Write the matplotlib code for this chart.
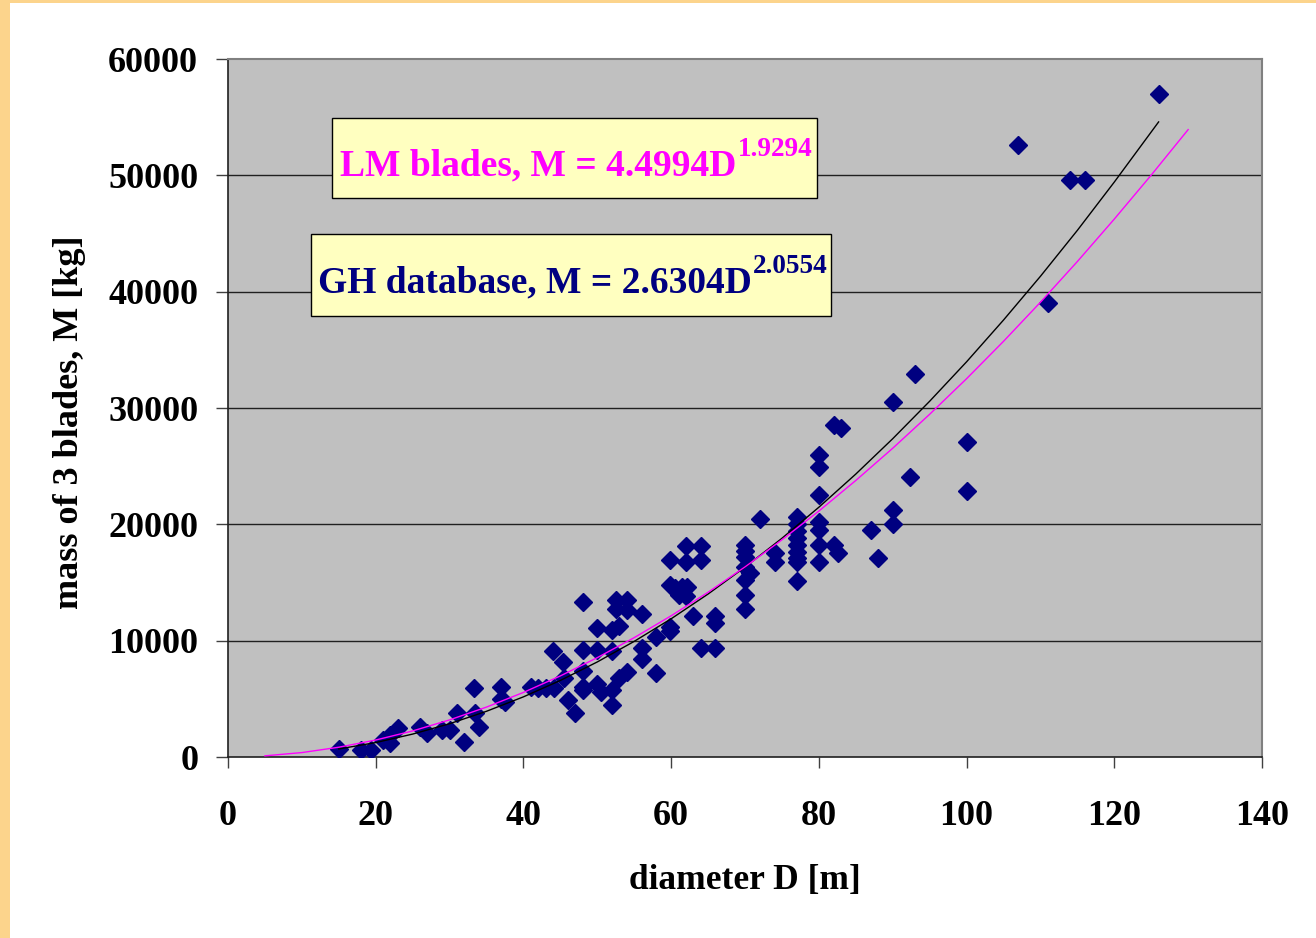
import matplotlib
matplotlib.use("Agg")
import matplotlib.pyplot as plt
from matplotlib.patches import Rectangle

# ---- data ----
diameter = [15, 18, 19.3, 21, 22, 22, 23, 26, 27, 29, 30, 31, 32, 33.3, 33.4, 34,
            37, 37, 37.5, 41, 42, 43, 44.2, 44, 45.3, 45.5, 46, 47,
            48, 48, 48, 48, 48, 50, 50, 50, 50.5, 52, 52, 52, 52, 52.5, 52.6, 53, 53,
            54, 54, 54, 56, 56, 56, 58, 58,
            59.8, 59.8, 59.8, 59.8, 60.5, 61, 61.5, 62, 62.2, 62, 62, 63, 64, 64, 64,
            66, 66, 66,
            70, 70, 70, 70, 70.7, 70, 70, 70, 72, 74, 74,
            77, 77, 77, 77, 77, 77, 77, 77, 77,
            80, 80, 80, 80, 80, 80, 80, 82, 83, 82, 82.6, 87, 88,
            90, 90, 90, 92.3, 93, 100, 100, 107, 111, 114, 116, 126]
mass = [660, 600, 600, 1450, 1200, 1900, 2450, 2600, 2050, 2300, 2300, 3800, 1300, 5900, 3750, 2600,
        6000, 5000, 4750, 6000, 5900, 5900, 5900, 9100, 8200, 6750, 4900, 3750,
        13350, 9200, 7400, 6050, 5800, 11100, 9200, 6300, 5600, 10900, 9100, 5750, 4450, 12700, 13500, 11300, 6800,
        13500, 12650, 7300, 12300, 9400, 8450, 10350, 7250,
        16900, 14800, 11200, 10800, 14500, 13900, 14650, 13800, 14650, 18100, 16800, 12100, 18100, 16900, 9350,
        12100, 11500, 9350,
        18200, 17700, 17200, 16300, 15800, 15200, 13900, 12700, 20500, 17500, 16800,
        20600, 20000, 19400, 18800, 18200, 17600, 17100, 16800, 15100,
        26000, 24900, 22500, 20200, 19500, 18200, 16800, 28500, 28300, 18200, 17500, 19500, 17100,
        30500, 21200, 20000, 24100, 32900, 27100, 22900, 52600, 39000, 49600, 49600, 57000]

# fitted trend lines
lm_D = [5, 10, 15, 20, 25, 30, 35, 40, 45, 50, 55, 60, 65, 70, 75, 80, 85, 90, 95,
        100, 105, 110, 115, 120, 125, 130]
lm_M = [100, 380, 840, 1460, 2240, 3190, 4290, 5550, 6970, 8540, 10260, 12140, 14160,
        16340, 18670, 21140, 23770, 26540, 29460, 32520, 35730, 39090, 42590, 46240,
        50020, 53930]
gh_D = [15, 20, 25, 30, 35, 40, 45, 50, 55, 60, 65, 70, 75, 80, 85, 90, 95, 100, 105,
        110, 115, 120, 126]
gh_M = [690, 1240, 1970, 2860, 3930, 5170, 6580, 8170, 9940, 11880, 14010, 16320, 18800,
        21470, 24320, 27360, 30580, 33970, 37560, 41320, 45270, 49420, 54590]

x_ticks = [0, 20, 40, 60, 80, 100, 120, 140]
y_ticks = [0, 10000, 20000, 30000, 40000, 50000, 60000]

lm_label = "LM blades, M = 4.4994D"
lm_exp = "1.9294"
gh_label = "GH database, M = 2.6304D"
gh_exp = "2.0554"
xlabel = "diameter D [m]"
ylabel = "mass of 3 blades, M [kg]"

# ---- figure ----
SERIF = ["Liberation Serif", "DejaVu Serif"]
W, H = 1316, 938
fig = plt.figure(figsize=(W / 100, H / 100), dpi=100, facecolor="white")

# orange frame strips (top and left)
fig.patches.append(Rectangle((0, 0), 10 / W, 1, transform=fig.transFigure,
                             facecolor="#FCD48C", edgecolor="none", zorder=0))
fig.patches.append(Rectangle((0, 1 - 3 / H), 1, 3 / H, transform=fig.transFigure,
                             facecolor="#FCD48C", edgecolor="none", zorder=0))

ax = fig.add_axes([228 / W, 1 - 757 / H, (1262 - 228) / W, (757 - 59) / H])
ax.set_facecolor("#C0C0C0")
ax.set_xlim(0, 140)
ax.set_ylim(0, 60000)

for v in y_ticks[1:-1]:
    ax.axhline(v, color="#202020", lw=1.0, zorder=1)

ax.plot(diameter, mass, linestyle="none", marker="D", markersize=8.8,
        color="#000080", markeredgecolor="#000080", zorder=3)
ax.plot(gh_D, gh_M, color="black", lw=1.0, zorder=4)
ax.plot(lm_D, lm_M, color="#FF00FF", lw=1.0, zorder=4)

ax.set_xticks(x_ticks)
ax.set_yticks(y_ticks)
ax.set_xticklabels([str(t) for t in x_ticks])
ax.set_yticklabels([str(t) for t in y_ticks])
for lab in ax.get_xticklabels() + ax.get_yticklabels():
    lab.set_fontfamily(SERIF)
    lab.set_fontweight("bold")
    lab.set_fontsize(26)
ax.tick_params(axis="x", direction="out", length=8, width=1, pad=23, color="#404040")
ax.tick_params(axis="y", direction="out", length=8.5, width=1, pad=13, color="#404040")

for side in ["left", "bottom"]:
    ax.spines[side].set_color("#202020")
    ax.spines[side].set_linewidth(1.2)
for side in ["top", "right"]:
    ax.spines[side].set_color("#808080")
    ax.spines[side].set_linewidth(1.5)

ax.set_xlabel(xlabel, fontfamily=SERIF, fontweight="bold", fontsize=25.5)
ax.set_ylabel(ylabel, fontfamily=SERIF, fontweight="bold", fontsize=26)
ax.xaxis.set_label_coords(0.5, (757 - 864) / 698)
ax.yaxis.set_label_coords((86 - 228) / 1034, (757 - 422) / 698)

# ---- equation boxes ----
def box(x0, x1, ytop, ybot):
    # pixel coords in figure -> axes fraction
    ax.add_patch(Rectangle(((x0 - 228) / 1034, (757 - ybot) / 698),
                           (x1 - x0) / 1034, (ybot - ytop) / 698,
                           transform=ax.transAxes, facecolor="#FFFFC0",
                           edgecolor="black", lw=1.0, zorder=5))

box(332, 817, 118, 198)
box(311, 831, 234, 316)

t1 = ax.text((340 - 228) / 1034, (757 - 175) / 698, lm_label, transform=ax.transAxes,
             fontfamily=SERIF, fontweight="bold", fontsize=27, color="#FF00FF",
             ha="left", va="baseline", zorder=6)
ax.annotate(lm_exp, xy=(1, 0), xycoords=t1, xytext=(1, 15), textcoords="offset points",
            fontfamily=SERIF, fontweight="bold", fontsize=19.5, color="#FF00FF",
            ha="left", va="bottom", zorder=6)

t2 = ax.text((318 - 228) / 1034, (757 - 292) / 698, gh_label, transform=ax.transAxes,
             fontfamily=SERIF, fontweight="bold", fontsize=27, color="#000080",
             ha="left", va="baseline", zorder=6)
ax.annotate(gh_exp, xy=(1, 0), xycoords=t2, xytext=(1, 15), textcoords="offset points",
            fontfamily=SERIF, fontweight="bold", fontsize=19.5, color="#000080",
            ha="left", va="bottom", zorder=6)

fig.savefig("out.png", dpi=100, facecolor="white")
